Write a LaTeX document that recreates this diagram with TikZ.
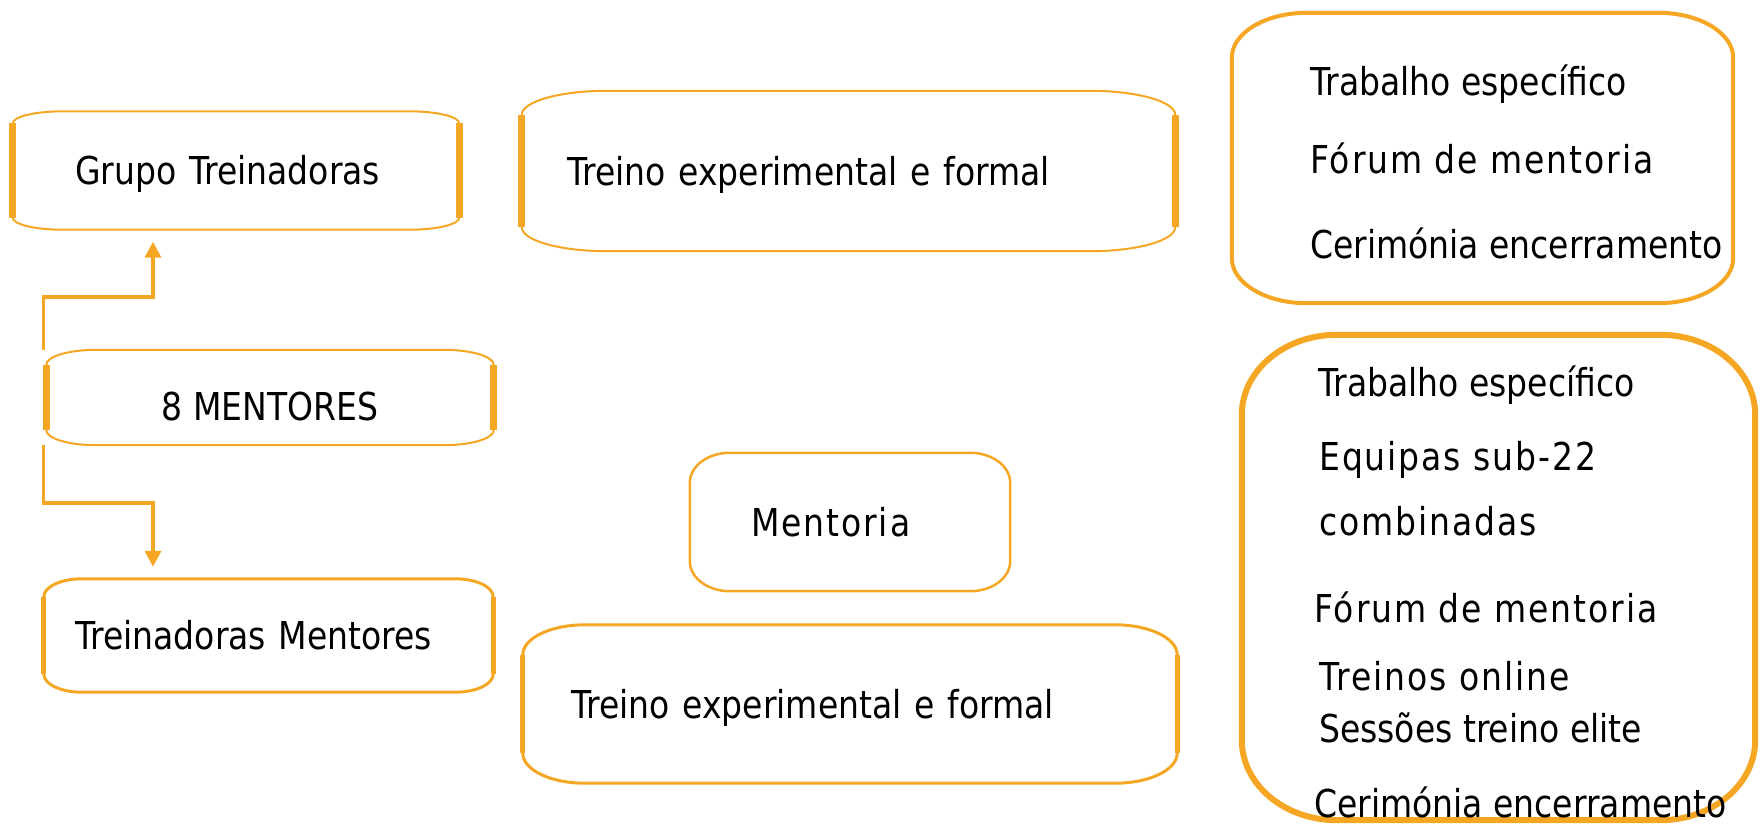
\documentclass[tikz,border=0pt]{standalone}
\usepackage{fontspec}
\setmainfont[FakeStretch=0.86]{DejaVu Sans}
\newfontfamily\spaced[FakeStretch=0.86,LetterSpace=5]{DejaVu Sans}
\usetikzlibrary{arrows.meta}
\definecolor{boxline}{RGB}{245,166,35}
\tikzset{
	box/.style={inner sep=0pt, text height=28pt, text depth=0pt, font=\fontsize{38.4}{46}\selectfont},
	item/.style={anchor=base west, inner sep=0pt, font=\fontsize{38.4}{46}\selectfont},
	edge/.style={draw=boxline},
	link/.style={draw=boxline, line width=3.5pt, shorten >=12pt, -{Triangle[width=16pt,length=16pt]}},
	oval/.style n args={3}{insert path={([xshift=#2]#1.north west) -- ([xshift=-#2]#1.north east)
		arc[start angle=90, end angle=0, x radius=#2, y radius=#3] -- ([yshift=#3]#1.south east)
		arc[start angle=0, end angle=-90, x radius=#2, y radius=#3] -- ([xshift=#2]#1.south west)
		arc[start angle=-90, end angle=-180, x radius=#2, y radius=#3] -- ([yshift=-#3]#1.north west)
		arc[start angle=180, end angle=90, x radius=#2, y radius=#3] -- cycle}},
	sides/.style 2 args={insert path={([yshift=-#2]#1.north west) -- ([yshift=#2]#1.south west)
		([yshift=-#2]#1.north east) -- ([yshift=#2]#1.south east)}}
}
\begin{document}
\begin{tikzpicture}[x=1pt, y=-1pt]
		\useasboundingbox (0,0) rectangle (1760,825);
		\node[box, minimum width=446pt, minimum height=118pt, text width=322pt, align=left] (g) at (236,170.5) {Grupo Treinadoras};
		\node[box, minimum width=447pt, minimum height=95pt, text height=45pt] (m8) at (270,397.5) {8 MENTORES};
		\node[box, minimum width=449pt, minimum height=113pt, text width=387pt, align=left] (tm) at (268.5,635.5) {Treinadoras Mentores};
		\node[box, minimum width=653pt, minimum height=160pt, text width=563pt, align=left] (t1) at (848.5,171) {Treino experimental e formal};
		\node[box, minimum width=320pt, minimum height=138pt, text width=198pt, align=left, font=\fontsize{38.4}{46}\spaced] (me) at (850,522) {Mentoria};
		\node[box, minimum width=654pt, minimum height=158pt, text width=558pt, align=left] (t2) at (850,704) {Treino experimental e formal};
		\node[box, minimum width=501pt, minimum height=290pt] (tr) at (1482.5,158) {};
		\node[box, minimum width=513pt, minimum height=485pt] (br) at (1498.5,577.5) {};
		\foreach \n/\rx/\ry/\w/\s in {g/50/12/2/7, m8/50/15/2/7, tm/38/18/3/5, t1/85/24/2/7, t2/62/30/3/5} {
			\draw[edge, line width=\w pt] [oval={\n}{\rx pt}{\ry pt}];
			\draw[edge, line width=\s pt] [sides={\n}{\ry pt}];
		}
		\draw[edge, line width=2.5pt] [oval={me}{40pt}{30pt}];
		\draw[edge, line width=4pt] [oval={tr}{75pt}{45pt}];
		\draw[edge, line width=6pt] [oval={br}{95pt}{80pt}];
		\foreach \x/\y/\t [count=\i] in {1310/95/Trabalho específico, 1310/173/{\spaced Fórum de mentoria}, 1310/258/Cerimónia encerramento}
			\node[item] (tr\i) at (\x,\y) {\t};
		\foreach \x/\y/\t [count=\i] in {1318/396/Trabalho específico, 1319/470/{\spaced Equipas sub-22}, 1319/535/{\spaced combinadas}, 1314/622/{\spaced Fórum de mentoria}, 1319/690/{\spaced Treinos online}, 1319/742/Sessões treino elite, 1314/817/Cerimónia encerramento}
			\node[item] (br\i) at (\x,\y) {\t};
		\coordinate (up) at (153,297);
		\coordinate (dn) at (153,503);
		\draw[link] ([xshift=-3pt]m8.north west) |- (up) -- (up |- g.south);
		\draw[link] ([xshift=-3pt]m8.south west) |- (dn) -- (dn |- tm.north);
\end{tikzpicture}
\end{document}
